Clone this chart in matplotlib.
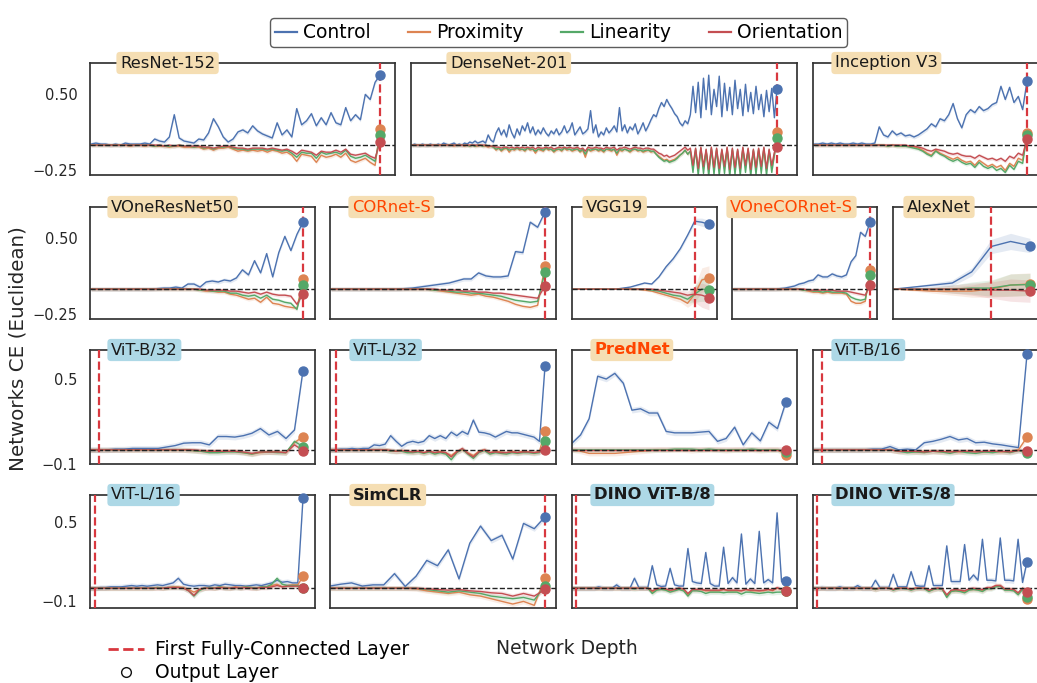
import matplotlib.pyplot as plt
from matplotlib.lines import Line2D
import numpy as np

FIG_W, FIG_H = 1037, 683

SERIES = ["Control", "Proximity", "Linearity", "Orientation"]
COLORS = ["#4c72b0", "#dd8452", "#55a868", "#c44e52"]
FC_COLOR = "#d8383f"
WHEAT = "#f5deb3"
LIGHTBLUE = "#add8e6"
HIGHLIGHT = "#ff4500"

# ---------------------------------------------------------------- row 1
RESNET152_CONTROL = [
    0.01, 0.02, 0.01, 0.01, 0.00, 0.01, 0.00, 0.02, 0.01, 0.01,
    0.01, 0.02, 0.01, 0.06, 0.04, 0.03, 0.08, 0.30, 0.07, 0.04,
    0.03, 0.02, 0.06, 0.05, 0.12, 0.26, 0.18, 0.08, 0.03, 0.06,
    0.13, 0.15, 0.12, 0.19, 0.14, 0.11, 0.09, 0.07, 0.22, 0.10,
    0.15, 0.08, 0.36, 0.20, 0.24, 0.31, 0.19, 0.27, 0.20, 0.32,
    0.22, 0.20, 0.37, 0.24, 0.30, 0.25, 0.50, 0.45, 0.62, 0.69,
]
RESNET152_PROXIMITY = [
    0.00, 0.00, 0.00, 0.00, 0.00, 0.00, 0.00, 0.00, -0.01, 0.00,
    0.00, -0.01, 0.00, -0.01, -0.01, -0.01, -0.02, -0.01, -0.01, -0.02,
    -0.02, -0.02, -0.02, -0.04, -0.03, -0.05, -0.03, -0.03, -0.02, -0.04,
    -0.06, -0.05, -0.06, -0.05, -0.06, -0.05, -0.07, -0.05, -0.06, -0.08,
    -0.07, -0.10, -0.16, -0.09, -0.10, -0.11, -0.17, -0.10, -0.12, -0.11,
    -0.09, -0.12, -0.08, -0.15, -0.17, -0.15, -0.13, -0.17, -0.20, 0.155,
]
RESNET152_LINEARITY = [
    0.00, 0.00, 0.00, 0.00, 0.00, 0.00, 0.00, 0.00, 0.00, 0.00,
    0.00, 0.00, 0.00, -0.01, 0.00, -0.01, -0.01, -0.01, 0.00, -0.01,
    -0.01, -0.02, -0.01, -0.03, -0.02, -0.04, -0.02, -0.02, -0.01, -0.03,
    -0.04, -0.04, -0.05, -0.04, -0.04, -0.04, -0.05, -0.04, -0.05, -0.06,
    -0.05, -0.08, -0.12, -0.07, -0.08, -0.08, -0.13, -0.07, -0.09, -0.08,
    -0.07, -0.09, -0.05, -0.11, -0.13, -0.12, -0.10, -0.13, -0.16, 0.10,
]
RESNET152_ORIENTATION = [
    0.00, 0.00, 0.00, 0.00, 0.00, 0.00, 0.00, 0.00, 0.00, 0.00,
    0.00, 0.00, 0.00, 0.00, 0.00, -0.01, 0.00, -0.01, 0.00, -0.01,
    -0.01, -0.01, -0.01, -0.02, -0.02, -0.03, -0.02, -0.01, -0.01, -0.02,
    -0.03, -0.03, -0.04, -0.03, -0.03, -0.03, -0.04, -0.03, -0.04, -0.05,
    -0.04, -0.06, -0.09, -0.05, -0.06, -0.07, -0.10, -0.06, -0.07, -0.07,
    -0.05, -0.07, -0.04, -0.09, -0.10, -0.09, -0.08, -0.11, -0.13, 0.03,
]

DENSENET201_CONTROL = [
    0.00, 0.01, 0.00, 0.00, 0.01, 0.00, 0.00, 0.01, 0.00, 0.00,
    0.01, 0.00, 0.02, 0.01, 0.00, 0.01, 0.02, 0.00, 0.01, 0.00,
    0.02, 0.01, 0.03, 0.02, 0.04, 0.02, 0.03, 0.04, 0.02, 0.10,
    0.05, 0.03, 0.12, 0.17, 0.10, 0.15, 0.08, 0.20, 0.12, 0.07,
    0.16, 0.10, 0.19, 0.14, 0.22, 0.12, 0.18, 0.10, 0.15, 0.11,
    0.17, 0.12, 0.09, 0.14, 0.11, 0.16, 0.10, 0.13, 0.19, 0.12,
    0.15, 0.22, 0.10, 0.14, 0.18, 0.11, 0.13, 0.16, 0.34, 0.12,
    0.20, 0.08, 0.13, 0.10, 0.17, 0.12, 0.15, 0.19, 0.13, 0.37,
    0.14, 0.20, 0.12, 0.18, 0.15, 0.21, 0.11, 0.16, 0.22, 0.14,
    0.19, 0.25, 0.30, 0.28, 0.36, 0.42, 0.38, 0.45, 0.40, 0.36,
    0.31, 0.28, 0.22, 0.19, 0.24, 0.21, 0.30,
    0.58, 0.32, 0.62, 0.27, 0.66, 0.35, 0.69, 0.30,
    0.55, 0.38, 0.68, 0.28, 0.61, 0.34, 0.57, 0.30,
    0.64, 0.36, 0.55, 0.29, 0.60, 0.33, 0.52, 0.31,
    0.58, 0.35, 0.50, 0.28, 0.54, 0.33, 0.56, 0.27,
    0.55,
]
DENSENET201_PROXIMITY = [
    0.00, 0.00, 0.00, 0.00, 0.00, 0.00, 0.00, 0.00, 0.00, 0.00,
    0.00, 0.00, 0.00, 0.00, 0.00, 0.00, -0.01, 0.00, 0.00, 0.00,
    -0.01, 0.00, -0.01, 0.00, -0.01, -0.01, 0.00, -0.01, -0.01, -0.02,
    -0.01, -0.02, -0.05, -0.03, -0.06, -0.04, -0.03, -0.07, -0.04, -0.05,
    -0.03, -0.05, -0.04, -0.06, -0.03, -0.05, -0.04, -0.08, -0.04, -0.05,
    -0.06, -0.03, -0.05, -0.04, -0.07, -0.05, -0.04, -0.06, -0.03, -0.05,
    -0.04, -0.06, -0.05, -0.04, -0.07, -0.05, -0.12, -0.04, -0.06, -0.05,
    -0.04, -0.06, -0.05, -0.07, -0.04, -0.05, -0.06, -0.04, -0.10, -0.05,
    -0.06, -0.04, -0.05, -0.07, -0.05, -0.04, -0.06, -0.05, -0.07, -0.06,
    -0.05, -0.07, -0.06, -0.09, -0.11, -0.13, -0.15, -0.14, -0.16, -0.15,
    -0.14, -0.12, -0.10, -0.08, -0.05, -0.09, -0.06,
    -0.22, -0.05, -0.25, -0.04, -0.23, -0.06, -0.26, -0.04,
    -0.24, -0.05, -0.25, -0.06, -0.23, -0.04, -0.26, -0.05,
    -0.24, -0.06, -0.25, -0.04, -0.22, -0.05, -0.26, -0.06,
    -0.24, -0.05, -0.23, -0.04, -0.25, -0.06, -0.22, -0.10,
    0.125,
]
DENSENET201_LINEARITY = [
    0.00, 0.00, 0.00, 0.00, 0.00, 0.00, 0.00, 0.00, 0.00, 0.00,
    0.00, 0.00, 0.00, 0.00, 0.00, 0.00, 0.00, 0.00, 0.00, 0.00,
    0.00, 0.00, -0.01, 0.00, -0.01, 0.00, 0.00, -0.01, 0.00, -0.01,
    -0.01, -0.02, -0.04, -0.03, -0.05, -0.03, -0.03, -0.05, -0.04, -0.04,
    -0.03, -0.04, -0.04, -0.05, -0.03, -0.04, -0.04, -0.06, -0.04, -0.04,
    -0.05, -0.03, -0.04, -0.04, -0.06, -0.04, -0.04, -0.05, -0.03, -0.04,
    -0.04, -0.05, -0.04, -0.04, -0.06, -0.04, -0.09, -0.04, -0.05, -0.04,
    -0.04, -0.05, -0.04, -0.06, -0.04, -0.04, -0.05, -0.04, -0.08, -0.04,
    -0.05, -0.04, -0.05, -0.06, -0.04, -0.04, -0.05, -0.05, -0.06, -0.05,
    -0.05, -0.06, -0.06, -0.09, -0.12, -0.14, -0.16, -0.15, -0.17, -0.16,
    -0.15, -0.13, -0.10, -0.08, -0.05, -0.09, -0.06,
    -0.27, -0.04, -0.30, -0.03, -0.28, -0.05, -0.31, -0.03,
    -0.29, -0.04, -0.30, -0.05, -0.28, -0.03, -0.31, -0.04,
    -0.29, -0.05, -0.30, -0.03, -0.27, -0.04, -0.31, -0.05,
    -0.29, -0.04, -0.28, -0.03, -0.30, -0.05, -0.27, -0.10,
    0.07,
]
DENSENET201_ORIENTATION = [
    0.00, 0.00, 0.00, 0.00, 0.00, 0.00, 0.00, 0.00, 0.00, 0.00,
    0.00, 0.00, 0.00, 0.00, 0.00, 0.00, 0.00, 0.00, 0.00, 0.00,
    0.00, 0.00, 0.00, 0.00, 0.00, 0.00, 0.00, 0.00, 0.00, -0.01,
    -0.01, -0.01, -0.02, -0.02, -0.03, -0.02, -0.02, -0.03, -0.02, -0.03,
    -0.02, -0.03, -0.02, -0.03, -0.02, -0.03, -0.02, -0.04, -0.02, -0.03,
    -0.03, -0.02, -0.03, -0.02, -0.04, -0.03, -0.02, -0.03, -0.02, -0.03,
    -0.02, -0.03, -0.03, -0.02, -0.04, -0.03, -0.06, -0.02, -0.03, -0.03,
    -0.02, -0.03, -0.03, -0.04, -0.02, -0.03, -0.03, -0.02, -0.05, -0.03,
    -0.03, -0.02, -0.03, -0.04, -0.03, -0.02, -0.03, -0.03, -0.04, -0.03,
    -0.03, -0.04, -0.04, -0.06, -0.08, -0.09, -0.11, -0.10, -0.12, -0.11,
    -0.10, -0.08, -0.06, -0.04, -0.02, -0.05, -0.03,
    -0.20, -0.03, -0.23, -0.02, -0.21, -0.04, -0.24, -0.02,
    -0.22, -0.03, -0.23, -0.04, -0.21, -0.02, -0.24, -0.03,
    -0.22, -0.04, -0.23, -0.02, -0.20, -0.03, -0.24, -0.04,
    -0.22, -0.03, -0.21, -0.02, -0.23, -0.04, -0.20, -0.07,
    -0.02,
]

INCEPTION_CONTROL = [
    0.01, 0.01, 0.02, 0.01, 0.02, 0.01, 0.02, 0.01, 0.01, 0.02,
    0.01, 0.02, 0.01, 0.01, 0.02, 0.18, 0.10, 0.08, 0.14, 0.10,
    0.12, 0.09, 0.10, 0.08, 0.10, 0.13, 0.16, 0.21, 0.18, 0.26,
    0.24, 0.30, 0.41, 0.26, 0.17, 0.30, 0.35, 0.32, 0.38, 0.34,
    0.36, 0.40, 0.42, 0.58, 0.45, 0.57, 0.42, 0.48, 0.35, 0.63,
]
INCEPTION_PROXIMITY = [
    0.00, 0.00, 0.00, 0.00, 0.00, 0.00, 0.00, 0.00, 0.00, 0.00,
    0.00, 0.00, 0.00, 0.00, 0.00, 0.00, 0.00, -0.01, 0.00, -0.01,
    -0.01, -0.01, -0.01, -0.02, -0.03, -0.05, -0.08, -0.10, -0.05, -0.08,
    -0.10, -0.12, -0.14, -0.12, -0.15, -0.17, -0.16, -0.20, -0.15, -0.18,
    -0.21, -0.19, -0.22, -0.20, -0.25, -0.18, -0.21, -0.13, -0.15, 0.115,
]
INCEPTION_LINEARITY = [
    0.00, 0.00, 0.00, 0.00, 0.00, 0.00, 0.00, 0.00, 0.00, 0.00,
    0.00, 0.00, 0.00, 0.00, 0.00, 0.00, 0.00, -0.01, 0.00, -0.01,
    -0.01, -0.01, -0.02, -0.03, -0.04, -0.06, -0.09, -0.11, -0.06, -0.09,
    -0.11, -0.14, -0.16, -0.14, -0.17, -0.19, -0.18, -0.22, -0.17, -0.21,
    -0.23, -0.21, -0.25, -0.23, -0.27, -0.20, -0.24, -0.16, -0.18, 0.10,
]
INCEPTION_ORIENTATION = [
    0.00, 0.00, 0.00, 0.00, 0.00, 0.00, 0.00, 0.00, 0.00, 0.00,
    0.00, 0.00, 0.00, 0.00, 0.00, 0.00, 0.00, 0.00, 0.00, 0.00,
    0.00, 0.00, -0.01, -0.01, -0.02, -0.03, -0.05, -0.06, -0.04, -0.05,
    -0.06, -0.08, -0.09, -0.08, -0.10, -0.11, -0.11, -0.13, -0.10, -0.12,
    -0.14, -0.13, -0.15, -0.13, -0.16, -0.11, -0.13, -0.08, -0.10, 0.06,
]

# ---------------------------------------------------------------- row 2
VONERESNET50_CONTROL = [
    0.00, 0.00, 0.00, 0.00, 0.00, 0.00, 0.00, 0.00, 0.00, 0.00,
    0.00, 0.005, 0.01, 0.01, 0.02, 0.01, 0.05, 0.05, 0.02, 0.07,
    0.08, 0.07, 0.09, 0.08, 0.11, 0.19, 0.14, 0.28, 0.16, 0.35,
    0.12, 0.36, 0.52, 0.38, 0.54, 0.66,
]
VONERESNET50_PROXIMITY = [
    0.00, 0.00, 0.00, 0.00, 0.00, 0.00, 0.00, 0.00, 0.00, 0.00,
    0.00, 0.00, 0.00, 0.00, 0.00, 0.00, 0.00, 0.00, -0.01, -0.02,
    -0.02, -0.03, -0.03, -0.05, -0.06, -0.08, -0.10, -0.09, -0.13, -0.08,
    -0.14, -0.15, -0.17, -0.18, -0.19, 0.10,
]
VONERESNET50_LINEARITY = [
    0.00, 0.00, 0.00, 0.00, 0.00, 0.00, 0.00, 0.00, 0.00, 0.00,
    0.00, 0.00, 0.00, 0.00, 0.00, 0.00, 0.00, 0.00, -0.01, -0.01,
    -0.02, -0.02, -0.02, -0.04, -0.04, -0.06, -0.07, -0.06, -0.09, -0.06,
    -0.10, -0.11, -0.13, -0.14, -0.20, 0.04,
]
VONERESNET50_ORIENTATION = [
    0.00, 0.00, 0.00, 0.00, 0.00, 0.00, 0.00, 0.00, 0.00, 0.00,
    0.00, 0.00, 0.00, 0.00, 0.00, 0.00, 0.00, 0.00, 0.00, -0.01,
    -0.01, -0.01, -0.01, -0.02, -0.02, -0.03, -0.04, -0.03, -0.05, -0.03,
    -0.05, -0.06, -0.06, -0.07, -0.15, -0.05,
]

CORNETS_CONTROL = [
    0.00, 0.00, 0.00, 0.00, 0.00, 0.00, 0.00, 0.00, 0.00, 0.00,
    0.005, 0.01, 0.02, 0.03, 0.04, 0.05, 0.06, 0.08, 0.10, 0.10,
    0.16, 0.13, 0.12, 0.12, 0.13, 0.37, 0.36, 0.66, 0.61, 0.76,
]
CORNETS_PROXIMITY = [
    0.00, 0.00, 0.00, 0.00, 0.00, 0.00, 0.00, 0.00, 0.00, 0.00,
    0.00, 0.00, 0.00, 0.00, -0.01, -0.02, -0.03, -0.04, -0.05, -0.06,
    -0.05, -0.07, -0.08, -0.10, -0.12, -0.15, -0.17, -0.18, -0.16, 0.23,
]
CORNETS_LINEARITY = [
    0.00, 0.00, 0.00, 0.00, 0.00, 0.00, 0.00, 0.00, 0.00, 0.00,
    0.00, 0.00, 0.00, 0.00, -0.01, -0.01, -0.02, -0.03, -0.03, -0.04,
    -0.04, -0.05, -0.06, -0.07, -0.09, -0.11, -0.12, -0.13, -0.12, 0.17,
]
CORNETS_ORIENTATION = [
    0.00, 0.00, 0.00, 0.00, 0.00, 0.00, 0.00, 0.00, 0.00, 0.00,
    0.00, 0.00, 0.00, 0.00, 0.00, -0.01, -0.01, -0.01, -0.02, -0.02,
    -0.03, -0.03, -0.04, -0.04, -0.05, -0.06, -0.07, -0.08, -0.09, 0.03,
]

VGG19_CONTROL = [
    0.00, 0.00, 0.00, 0.00, 0.00, 0.00, 0.00, 0.01, 0.02, 0.04,
    0.06, 0.05, 0.12, 0.22, 0.30, 0.40, 0.53, 0.67, 0.66, 0.64,
]
VGG19_PROXIMITY = [
    0.00, 0.00, 0.00, 0.00, 0.00, 0.00, 0.00, 0.00, 0.00, 0.00,
    -0.01, -0.02, -0.04, -0.06, -0.08, -0.10, -0.14, -0.05, 0.09, 0.11,
]
VGG19_LINEARITY = [
    0.00, 0.00, 0.00, 0.00, 0.00, 0.00, 0.00, 0.00, 0.00, 0.00,
    0.00, -0.01, -0.02, -0.04, -0.06, -0.07, -0.10, -0.05, 0.00, -0.01,
]
VGG19_ORIENTATION = [
    0.00, 0.00, 0.00, 0.00, 0.00, 0.00, 0.00, 0.00, 0.00, 0.00,
    0.00, 0.00, -0.01, -0.02, -0.03, -0.04, -0.06, -0.05, -0.06, -0.085,
]
VGG19_SPREAD_CONTROL = [
    0.00, 0.00, 0.00, 0.00, 0.00, 0.00, 0.00, 0.01, 0.01, 0.01,
    0.01, 0.01, 0.01, 0.02, 0.02, 0.02, 0.02, 0.03, 0.04, 0.04,
]
VGG19_SPREAD_OTHER = [
    0.00, 0.00, 0.00, 0.00, 0.00, 0.00, 0.00, 0.00, 0.01, 0.01,
    0.01, 0.01, 0.02, 0.02, 0.03, 0.03, 0.04, 0.08, 0.12, 0.12,
]

VONECORNETS_CONTROL = [
    0.00, 0.00, 0.00, 0.00, 0.00, 0.00, 0.00, 0.00, 0.00, 0.00,
    0.005, 0.01, 0.02, 0.03, 0.05, 0.06, 0.08, 0.09, 0.14, 0.12,
    0.12, 0.15, 0.13, 0.12, 0.14, 0.27, 0.33, 0.56, 0.52, 0.66,
]
VONECORNETS_PROXIMITY = [
    0.00, 0.00, 0.00, 0.00, 0.00, 0.00, 0.00, 0.00, 0.00, 0.00,
    0.00, 0.00, 0.00, 0.00, 0.00, -0.01, -0.02, -0.03, -0.03, -0.04,
    -0.03, -0.04, -0.04, -0.04, -0.05, -0.12, -0.14, -0.14, -0.12, 0.19,
]
VONECORNETS_LINEARITY = [
    0.00, 0.00, 0.00, 0.00, 0.00, 0.00, 0.00, 0.00, 0.00, 0.00,
    0.00, 0.00, 0.00, 0.00, 0.00, -0.01, -0.01, -0.02, -0.02, -0.03,
    -0.02, -0.03, -0.03, -0.03, -0.04, -0.08, -0.10, -0.11, -0.10, 0.14,
]
VONECORNETS_ORIENTATION = [
    0.00, 0.00, 0.00, 0.00, 0.00, 0.00, 0.00, 0.00, 0.00, 0.00,
    0.00, 0.00, 0.00, 0.00, 0.00, 0.00, -0.01, -0.01, -0.01, -0.01,
    -0.01, -0.01, -0.02, -0.02, -0.02, -0.03, -0.04, -0.05, -0.06, 0.04,
]

ALEXNET_CONTROL = [0.00, 0.02, 0.04, 0.06, 0.17, 0.42, 0.47, 0.43]
ALEXNET_PROXIMITY = [0.00, -0.01, -0.02, -0.02, -0.02, 0.00, 0.04, 0.05]
ALEXNET_LINEARITY = [0.00, 0.00, 0.00, 0.00, 0.01, 0.01, 0.04, 0.045]
ALEXNET_ORIENTATION = [0.00, 0.00, 0.00, 0.00, 0.00, -0.01, -0.01, -0.02]
ALEXNET_SPREAD_CONTROL = [0.00, 0.01, 0.02, 0.03, 0.04, 0.07, 0.08, 0.07]
ALEXNET_SPREAD_OTHER = [0.00, 0.01, 0.02, 0.04, 0.06, 0.08, 0.11, 0.11]

# ---------------------------------------------------------------- row 3
VITB32_CONTROL = [
    0.00, 0.00, 0.00, 0.005, 0.005, 0.01, 0.01, 0.01, 0.01, 0.02,
    0.03, 0.047, 0.05, 0.05, 0.035, 0.094, 0.094, 0.09, 0.10, 0.117,
    0.15, 0.105, 0.13, 0.08, 0.14, 0.56,
]
VITB32_PROXIMITY = [
    0.00, 0.00, 0.00, 0.00, 0.00, 0.00, 0.00, 0.00, 0.00, 0.00,
    0.00, 0.00, -0.005, -0.01, -0.01, -0.01, -0.01, -0.01, -0.02, -0.03,
    -0.02, -0.015, -0.015, -0.02, 0.05, 0.094,
]
VITB32_LINEARITY = [
    0.00, 0.00, 0.00, 0.00, 0.00, 0.00, 0.00, 0.00, 0.00, 0.00,
    0.00, 0.00, -0.005, -0.01, -0.02, -0.02, -0.015, -0.015, -0.02, -0.03,
    -0.015, -0.015, -0.02, -0.02, 0.06, 0.023,
]
VITB32_ORIENTATION = [
    0.00, 0.00, 0.00, 0.00, 0.00, 0.00, 0.00, 0.00, 0.00, 0.00,
    0.00, 0.00, 0.00, -0.005, -0.01, -0.01, -0.01, -0.01, -0.015, -0.025,
    -0.015, -0.015, -0.015, -0.02, 0.035, -0.005,
]

VITL32_CONTROL = [
    0.00, 0.00, 0.005, 0.005, 0.01, 0.005, 0.01, 0.01, 0.035, 0.03,
    0.04, 0.10, 0.06, 0.025, 0.05, 0.06, 0.05, 0.06, 0.10, 0.08,
    0.10, 0.08, 0.125, 0.10, 0.13, 0.11, 0.21, 0.125, 0.12, 0.11,
    0.09, 0.11, 0.13, 0.12, 0.12, 0.11, 0.10, 0.09, 0.06, 0.59,
]
VITL32_PROXIMITY = [
    0.00, 0.00, 0.00, 0.00, 0.00, 0.00, 0.00, 0.00, 0.00, 0.00,
    0.00, -0.005, -0.01, -0.005, -0.01, -0.015, -0.01, -0.02, -0.01, -0.02,
    -0.01, -0.02, -0.04, -0.01, 0.00, -0.02, -0.04, -0.01, 0.00, -0.02,
    -0.01, -0.015, -0.02, -0.01, -0.02, -0.01, -0.015, -0.02, -0.01, 0.13,
]
VITL32_LINEARITY = [
    0.00, 0.00, 0.00, 0.00, 0.00, 0.00, 0.00, 0.00, 0.00, 0.00,
    0.00, -0.01, -0.01, -0.01, -0.02, -0.02, -0.015, -0.025, -0.015, -0.03,
    -0.02, -0.03, -0.07, -0.02, 0.005, -0.03, -0.06, -0.02, -0.005, -0.03,
    -0.02, -0.025, -0.03, -0.02, -0.025, -0.02, -0.02, -0.025, -0.02, 0.06,
]
VITL32_ORIENTATION = [
    0.00, 0.00, 0.00, 0.00, 0.00, 0.00, 0.00, 0.00, 0.00, 0.00,
    0.00, -0.005, -0.01, -0.005, -0.01, -0.015, -0.01, -0.02, -0.01, -0.02,
    -0.015, -0.02, -0.05, -0.015, 0.01, -0.025, -0.05, -0.015, 0.00, -0.02,
    -0.015, -0.02, -0.02, -0.015, -0.02, -0.015, -0.015, -0.02, -0.015, 0.00,
]

PREDNET_CONTROL = [
    0.047, 0.105, 0.22, 0.52, 0.50, 0.54, 0.47, 0.28, 0.29, 0.26,
    0.26, 0.13, 0.12, 0.12, 0.12, 0.125, 0.13, 0.06, 0.08, 0.16,
    0.035, 0.12, 0.063, 0.195, 0.15, 0.34,
]
PREDNET_PROXIMITY = [
    0.00, -0.01, -0.025, -0.025, -0.025, -0.025, -0.02, -0.015, -0.01, -0.005,
    0.00, 0.00, 0.00, 0.00, -0.005, 0.00, 0.00, 0.00, -0.005, 0.00,
    0.00, 0.00, -0.005, 0.00, 0.00, -0.035,
]
PREDNET_LINEARITY = [
    0.00, 0.00, 0.00, 0.00, 0.00, 0.00, 0.00, 0.00, 0.00, 0.00,
    0.00, 0.00, 0.005, 0.005, 0.005, 0.00, 0.005, 0.00, 0.00, 0.00,
    0.00, 0.005, 0.00, 0.00, 0.00, -0.012,
]
PREDNET_ORIENTATION = [
    0.00, 0.00, 0.00, 0.00, 0.00, 0.00, 0.00, 0.00, 0.00, 0.00,
    0.00, 0.00, 0.00, 0.00, 0.00, 0.00, 0.00, 0.00, 0.00, 0.00,
    0.00, 0.00, 0.00, 0.00, 0.00, 0.00,
]

VITB16_CONTROL = [
    0.00, 0.00, 0.00, 0.00, 0.00, 0.00, 0.00, 0.005, 0.005, 0.023,
    0.00, 0.005, 0.00, 0.05, 0.06, 0.075, 0.094, 0.07, 0.08, 0.05,
    0.054, 0.042, 0.035, 0.025, 0.016, 0.675,
]
VITB16_PROXIMITY = [
    0.00, 0.00, 0.00, 0.00, 0.00, 0.00, 0.00, 0.00, 0.00, 0.00,
    -0.01, -0.01, -0.015, -0.01, -0.01, -0.015, -0.01, -0.015, -0.01, -0.01,
    -0.015, -0.01, -0.015, -0.01, 0.00, 0.09,
]
VITB16_LINEARITY = [
    0.00, 0.00, 0.00, 0.00, 0.00, 0.00, 0.00, 0.00, 0.00, 0.00,
    -0.01, -0.02, -0.015, -0.02, -0.01, -0.015, -0.025, -0.01, -0.02, -0.025,
    -0.015, -0.02, -0.01, -0.02, -0.005, -0.024,
]
VITB16_ORIENTATION = [
    0.00, 0.00, 0.00, 0.00, 0.00, 0.00, 0.00, 0.00, 0.00, 0.00,
    -0.01, -0.01, -0.01, -0.015, -0.01, -0.01, -0.015, -0.01, -0.01, -0.015,
    -0.01, -0.01, -0.01, -0.015, -0.005, -0.007,
]

# ---------------------------------------------------------------- row 4
VITL16_CONTROL = [
    0.00, 0.00, 0.005, 0.005, 0.01, 0.01, 0.01, 0.015, 0.02, 0.015,
    0.02, 0.015, 0.02, 0.025, 0.02, 0.03, 0.04, 0.075, 0.03, 0.02,
    0.015, 0.02, 0.02, 0.015, 0.025, 0.02, 0.03, 0.025, 0.02, 0.02,
    0.015, 0.02, 0.025, 0.02, 0.03, 0.04, 0.06, 0.045, 0.05, 0.04,
    0.04, 0.68,
]
VITL16_PROXIMITY = [
    0.00, 0.00, 0.00, 0.00, 0.00, 0.00, 0.00, 0.00, 0.00, 0.00,
    0.00, 0.00, 0.00, 0.005, 0.00, 0.005, 0.01, 0.01, 0.005, -0.01,
    -0.03, -0.01, 0.00, 0.005, 0.00, 0.01, 0.005, 0.00, 0.01, 0.005,
    0.01, 0.005, 0.00, 0.01, 0.01, 0.02, 0.03, 0.01, 0.02, 0.025,
    0.025, 0.09,
]
VITL16_LINEARITY = [
    0.00, 0.00, 0.00, 0.00, 0.00, 0.00, 0.00, 0.00, 0.00, 0.00,
    0.00, 0.00, 0.00, 0.005, 0.00, 0.005, 0.005, 0.005, 0.00, -0.02,
    -0.06, -0.02, 0.00, 0.005, 0.00, 0.01, 0.00, 0.00, 0.005, 0.00,
    0.01, 0.005, 0.00, 0.01, 0.01, 0.03, 0.075, 0.03, 0.02, 0.02,
    0.02, 0.00,
]
VITL16_ORIENTATION = [
    0.00, 0.00, 0.00, 0.00, 0.00, 0.00, 0.00, 0.00, 0.00, 0.00,
    0.00, 0.00, 0.00, 0.00, 0.00, 0.005, 0.005, 0.005, 0.00, -0.02,
    -0.055, -0.01, 0.00, 0.00, 0.00, 0.005, 0.00, 0.00, 0.005, 0.00,
    0.005, 0.00, 0.00, 0.005, 0.005, 0.01, 0.02, 0.01, 0.015, 0.015,
    0.015, 0.005,
]

SIMCLR_CONTROL = [
    0.016, 0.03, 0.04, 0.016, 0.025, 0.025, 0.11, 0.013, 0.09, 0.21,
    0.17, 0.29, 0.07, 0.34, 0.47, 0.36, 0.40, 0.22, 0.49, 0.45,
    0.54,
]
SIMCLR_PROXIMITY = [
    0.00, 0.00, 0.00, 0.00, 0.00, 0.00, 0.00, 0.00, -0.005, -0.02,
    -0.03, -0.04, -0.03, -0.05, -0.06, -0.08, -0.10, -0.12, -0.10, -0.13,
    0.08,
]
SIMCLR_LINEARITY = [
    0.00, 0.00, 0.00, 0.00, 0.00, 0.00, 0.00, 0.00, 0.00, -0.01,
    -0.02, -0.03, -0.02, -0.03, -0.04, -0.06, -0.07, -0.08, -0.07, -0.09,
    0.02,
]
SIMCLR_ORIENTATION = [
    0.00, 0.00, 0.00, 0.00, 0.00, 0.00, 0.00, 0.00, 0.00, -0.005,
    -0.01, -0.015, -0.01, -0.02, -0.025, -0.035, -0.04, -0.06, -0.04, -0.06,
    -0.01,
]

DINOB8_CONTROL = [
    0.00, 0.00, 0.00, 0.00, 0.00, 0.00, 0.01, 0.00, 0.00, 0.00,
    0.025, 0.00, 0.00, 0.00, 0.075, 0.005, 0.005, 0.005, 0.17, 0.025,
    0.013, 0.016, 0.15, 0.025, 0.016, 0.016, 0.30, 0.05, 0.04, 0.035,
    0.27, 0.035, 0.016, 0.016, 0.31, 0.035, 0.08, 0.04, 0.41, 0.03,
    0.07, 0.035, 0.43, 0.04, 0.065, 0.04, 0.57, 0.05, 0.055,
]
DINOB8_PROXIMITY = [
    0.00, 0.00, 0.00, 0.00, 0.00, 0.00, 0.00, 0.00, 0.00, 0.00,
    0.00, 0.00, 0.00, 0.00, 0.00, 0.00, 0.00, 0.00, -0.03, -0.01,
    0.00, -0.01, -0.02, -0.01, 0.00, -0.01, -0.05, -0.01, -0.01, -0.01,
    -0.02, -0.02, -0.02, -0.02, -0.01, -0.02, -0.02, -0.02, -0.02, -0.01,
    -0.02, -0.02, -0.02, -0.02, -0.01, -0.02, 0.00, -0.01, -0.02,
]
DINOB8_LINEARITY = [
    0.00, 0.00, 0.00, 0.00, 0.00, 0.00, 0.00, 0.00, 0.00, 0.00,
    0.00, 0.00, 0.00, 0.00, -0.005, 0.00, 0.00, 0.00, -0.04, -0.015,
    -0.01, -0.015, -0.03, -0.02, -0.01, -0.02, -0.06, -0.02, -0.02, -0.025,
    -0.04, -0.03, -0.03, -0.03, -0.035, -0.03, -0.03, -0.03, -0.045, -0.03,
    -0.03, -0.035, -0.04, -0.035, -0.03, -0.035, -0.03, -0.03, -0.025,
]
DINOB8_ORIENTATION = [
    0.00, 0.00, 0.00, 0.00, 0.00, 0.00, 0.00, 0.00, 0.00, 0.00,
    0.00, 0.00, 0.00, 0.00, 0.00, 0.00, 0.00, 0.00, -0.02, -0.005,
    0.00, -0.005, -0.015, -0.01, 0.00, -0.005, -0.04, -0.01, -0.01, -0.01,
    -0.015, -0.015, -0.015, -0.015, -0.01, -0.015, -0.015, -0.015, -0.02, -0.01,
    -0.015, -0.015, -0.02, -0.015, -0.01, -0.015, 0.005, -0.01, -0.02,
]

DINOS8_CONTROL = [
    0.00, 0.00, 0.005, 0.00, 0.00, 0.00, 0.01, 0.00, 0.00, 0.00,
    0.02, 0.00, 0.00, 0.00, 0.06, 0.005, 0.005, 0.005, 0.105, 0.01,
    0.01, 0.01, 0.125, 0.02, 0.015, 0.015, 0.17, 0.02, 0.02, 0.02,
    0.32, 0.05, 0.05, 0.05, 0.33, 0.06, 0.10, 0.06, 0.37, 0.06,
    0.06, 0.055, 0.38, 0.06, 0.06, 0.055, 0.37, 0.043, 0.20,
]
DINOS8_PROXIMITY = [
    0.00, 0.00, 0.00, 0.00, 0.00, 0.00, 0.00, 0.00, 0.00, 0.00,
    0.00, 0.00, 0.00, 0.00, -0.01, 0.00, 0.00, 0.00, -0.01, 0.00,
    0.00, 0.00, -0.01, 0.00, 0.00, 0.00, -0.02, -0.01, 0.00, -0.01,
    -0.06, -0.02, -0.02, -0.02, -0.03, -0.01, -0.01, -0.01, -0.02, 0.00,
    0.00, 0.02, 0.02, -0.01, -0.01, -0.01, -0.04, 0.00, -0.08,
]
DINOS8_LINEARITY = [
    0.00, 0.00, 0.00, 0.00, 0.00, 0.00, 0.00, 0.00, 0.00, 0.00,
    0.00, 0.00, 0.00, 0.00, -0.01, 0.00, 0.00, 0.00, -0.015, -0.005,
    0.00, -0.005, -0.015, -0.005, 0.00, -0.005, -0.025, -0.01, -0.005, -0.01,
    -0.07, -0.025, -0.02, -0.025, -0.035, -0.015, -0.01, -0.015, -0.025, -0.005,
    -0.005, 0.01, 0.015, -0.015, -0.015, -0.02, -0.05, -0.01, -0.07,
]
DINOS8_ORIENTATION = [
    0.00, 0.00, 0.00, 0.00, 0.00, 0.00, 0.00, 0.00, 0.00, 0.00,
    0.00, 0.00, 0.00, 0.00, -0.005, 0.00, 0.00, 0.00, -0.01, 0.00,
    0.00, 0.00, -0.01, 0.00, 0.00, 0.00, -0.015, -0.005, 0.00, -0.005,
    -0.05, -0.015, -0.01, -0.015, -0.02, -0.005, 0.00, -0.005, -0.01, 0.005,
    0.005, 0.02, 0.02, -0.005, -0.005, -0.01, -0.035, 0.00, -0.03,
]

ROW_YLIM = [(-0.295, 0.81), (-0.295, 0.81), (-0.1, 0.705), (-0.15, 0.705)]
ROW_YTICKS = [[-0.25, 0.5], [-0.25, 0.5], [-0.1, 0.5], [-0.1, 0.5]]
ROW_PX = [(63, 175), (207, 319), (350, 464), (495, 608)]


def panel(name, row, axes_px, span_px, title_px, series, fc=None,
          spread=(0.02, 0.018), bg=WHEAT, color="#1a1a1a", bold=False, left=False):
    return dict(name=name, row=row, axes_px=axes_px, span_px=span_px,
                title_px=title_px, series=series, fc=fc, spread=spread,
                bg=bg, color=color, bold=bold, left=left)


PANELS = [
    panel("ResNet-152", 0, (90, 395), (91, 380), 116,
          [RESNET152_CONTROL, RESNET152_PROXIMITY, RESNET152_LINEARITY, RESNET152_ORIENTATION],
          fc=59, left=True),
    panel("DenseNet-201", 0, (411, 797), (412, 777), 446,
          [DENSENET201_CONTROL, DENSENET201_PROXIMITY, DENSENET201_LINEARITY, DENSENET201_ORIENTATION],
          fc=139),
    panel("Inception V3", 0, (813, 1038), (814, 1027), 831,
          [INCEPTION_CONTROL, INCEPTION_PROXIMITY, INCEPTION_LINEARITY, INCEPTION_ORIENTATION],
          fc=49),
    panel("VOneResNet50", 1, (90, 315), (91, 303), 107,
          [VONERESNET50_CONTROL, VONERESNET50_PROXIMITY, VONERESNET50_LINEARITY, VONERESNET50_ORIENTATION],
          fc=35, left=True),
    panel("CORnet-S", 1, (330, 556), (331, 545), 348,
          [CORNETS_CONTROL, CORNETS_PROXIMITY, CORNETS_LINEARITY, CORNETS_ORIENTATION],
          fc=29, color=HIGHLIGHT),
    panel("VGG19", 1, (572, 717), (573, 709), 582,
          [VGG19_CONTROL, VGG19_PROXIMITY, VGG19_LINEARITY, VGG19_ORIENTATION],
          fc=17, spread=(VGG19_SPREAD_CONTROL, VGG19_SPREAD_OTHER)),
    panel("VOneCORnet-S", 1, (732, 877), (733, 870), 726,
          [VONECORNETS_CONTROL, VONECORNETS_PROXIMITY, VONECORNETS_LINEARITY, VONECORNETS_ORIENTATION],
          fc=29, color=HIGHLIGHT),
    panel("AlexNet", 1, (893, 1038), (894, 1030), 903,
          [ALEXNET_CONTROL, ALEXNET_PROXIMITY, ALEXNET_LINEARITY, ALEXNET_ORIENTATION],
          fc=5, spread=(ALEXNET_SPREAD_CONTROL, ALEXNET_SPREAD_OTHER)),
    panel("ViT-B/32", 2, (90, 315), (90, 303), 107,
          [VITB32_CONTROL, VITB32_PROXIMITY, VITB32_LINEARITY, VITB32_ORIENTATION],
          fc=1, bg=LIGHTBLUE, left=True),
    panel("ViT-L/32", 2, (330, 556), (330, 545), 349,
          [VITL32_CONTROL, VITL32_PROXIMITY, VITL32_LINEARITY, VITL32_ORIENTATION],
          fc=1, bg=LIGHTBLUE),
    panel("PredNet", 2, (572, 797), (572, 786), 590,
          [PREDNET_CONTROL, PREDNET_PROXIMITY, PREDNET_LINEARITY, PREDNET_ORIENTATION],
          color=HIGHLIGHT, bold=True),
    panel("ViT-B/16", 2, (813, 1038), (813, 1027), 831,
          [VITB16_CONTROL, VITB16_PROXIMITY, VITB16_LINEARITY, VITB16_ORIENTATION],
          fc=1, bg=LIGHTBLUE),
    panel("ViT-L/16", 3, (90, 315), (90, 303), 107,
          [VITL16_CONTROL, VITL16_PROXIMITY, VITL16_LINEARITY, VITL16_ORIENTATION],
          fc=1, bg=LIGHTBLUE, left=True),
    panel("SimCLR", 3, (330, 556), (330, 545), 349,
          [SIMCLR_CONTROL, SIMCLR_PROXIMITY, SIMCLR_LINEARITY, SIMCLR_ORIENTATION],
          fc=20, bold=True),
    panel("DINO ViT-B/8", 3, (572, 797), (572, 786), 590,
          [DINOB8_CONTROL, DINOB8_PROXIMITY, DINOB8_LINEARITY, DINOB8_ORIENTATION],
          fc=1, bg=LIGHTBLUE, bold=True),
    panel("DINO ViT-S/8", 3, (813, 1038), (813, 1027), 831,
          [DINOS8_CONTROL, DINOS8_PROXIMITY, DINOS8_LINEARITY, DINOS8_ORIENTATION],
          fc=1, bg=LIGHTBLUE, bold=True),
]


def draw_panel(fig, p):
    l, r = p["axes_px"]
    t, b = ROW_PX[p["row"]]
    ax = fig.add_axes([l / FIG_W, 1 - b / FIG_H, (r - l) / FIG_W, (b - t) / FIG_H])

    n = len(p["series"][0])
    x = np.arange(n)
    first, last = p["span_px"]
    step = (last - first) / (n - 1)
    ax.set_xlim((l - first) / step, (r - first) / step)
    ax.set_ylim(*ROW_YLIM[p["row"]])

    for k, (vals, color) in enumerate(zip(p["series"], COLORS)):
        y = np.asarray(vals, dtype=float)
        s = np.asarray(p["spread"][0 if k == 0 else 1], dtype=float)
        ax.fill_between(x, y - s, y + s, color=color, alpha=0.15, lw=0, zorder=1)
        ax.plot(x, y, color=color, lw=1.0, zorder=2)
        ax.plot(x[-1], y[-1], "o", color=color, ms=6.5, zorder=6, clip_on=False)

    ax.axhline(0, color="#222222", ls="--", lw=1.0, zorder=3)
    if p["fc"] is not None:
        ax.axvline(p["fc"], color=FC_COLOR, ls="--", lw=1.6, zorder=5)

    ax.set_xticks([])
    ax.set_yticks(ROW_YTICKS[p["row"]])
    ax.tick_params(axis="y", length=0, pad=9, labelsize=10.5, labelcolor="#262626",
                   labelleft=p["left"])
    for sp in ax.spines.values():
        sp.set_color("#333333")
        sp.set_linewidth(1.25)

    ax.annotate(
        p["name"], xy=(0, 1), xycoords="axes fraction",
        xytext=(p["title_px"] - l + 4, 0), textcoords="offset pixels",
        ha="left", va="center", fontsize=11.8, color=p["color"],
        fontweight="bold" if p["bold"] else "normal",
        bbox=dict(boxstyle="round,pad=0.22", fc=p["bg"], ec="none"),
        zorder=10, annotation_clip=False,
    )
    return ax


def main():
    plt.rcParams["font.family"] = ["DejaVu Sans"]
    fig = plt.figure(figsize=(FIG_W / 100, FIG_H / 100), dpi=100)

    for p in PANELS:
        draw_panel(fig, p)

    handles = [Line2D([], [], color=c, lw=1.6) for c in COLORS]
    fig.legend(handles, SERIES, loc="upper center", bbox_to_anchor=(558.5 / FIG_W, 1 - 9 / FIG_H),
               ncol=4, fontsize=13.5, frameon=True, fancybox=True, edgecolor="#333333",
               handlelength=1.2, handletextpad=0.3, columnspacing=2.0, borderpad=0.25)

    fc_handles = [
        Line2D([], [], color=FC_COLOR, ls="--", lw=2.0),
        Line2D([], [], marker="o", ls="none", mfc="none", mec="#111111", ms=7),
    ]
    fig.legend(fc_handles, ["First Fully-Connected Layer", "Output Layer"], loc="upper left",
               bbox_to_anchor=(99 / FIG_W, 1 - 631 / FIG_H), frameon=False, fontsize=13.5,
               handlelength=1.9, handletextpad=0.6, labelspacing=0.22, borderpad=0.0)

    fig.text(567 / FIG_W, 1 - 648 / FIG_H, "Network Depth", ha="center", va="center",
             fontsize=13.5, color="#262626")
    fig.text(18 / FIG_W, 1 - 349 / FIG_H, "Networks CE (Euclidean)", ha="center", va="center",
             rotation=90, fontsize=14.3, color="#262626")

    fig.savefig("out.png", dpi=100)
    plt.close(fig)


if __name__ == "__main__":
    main()
